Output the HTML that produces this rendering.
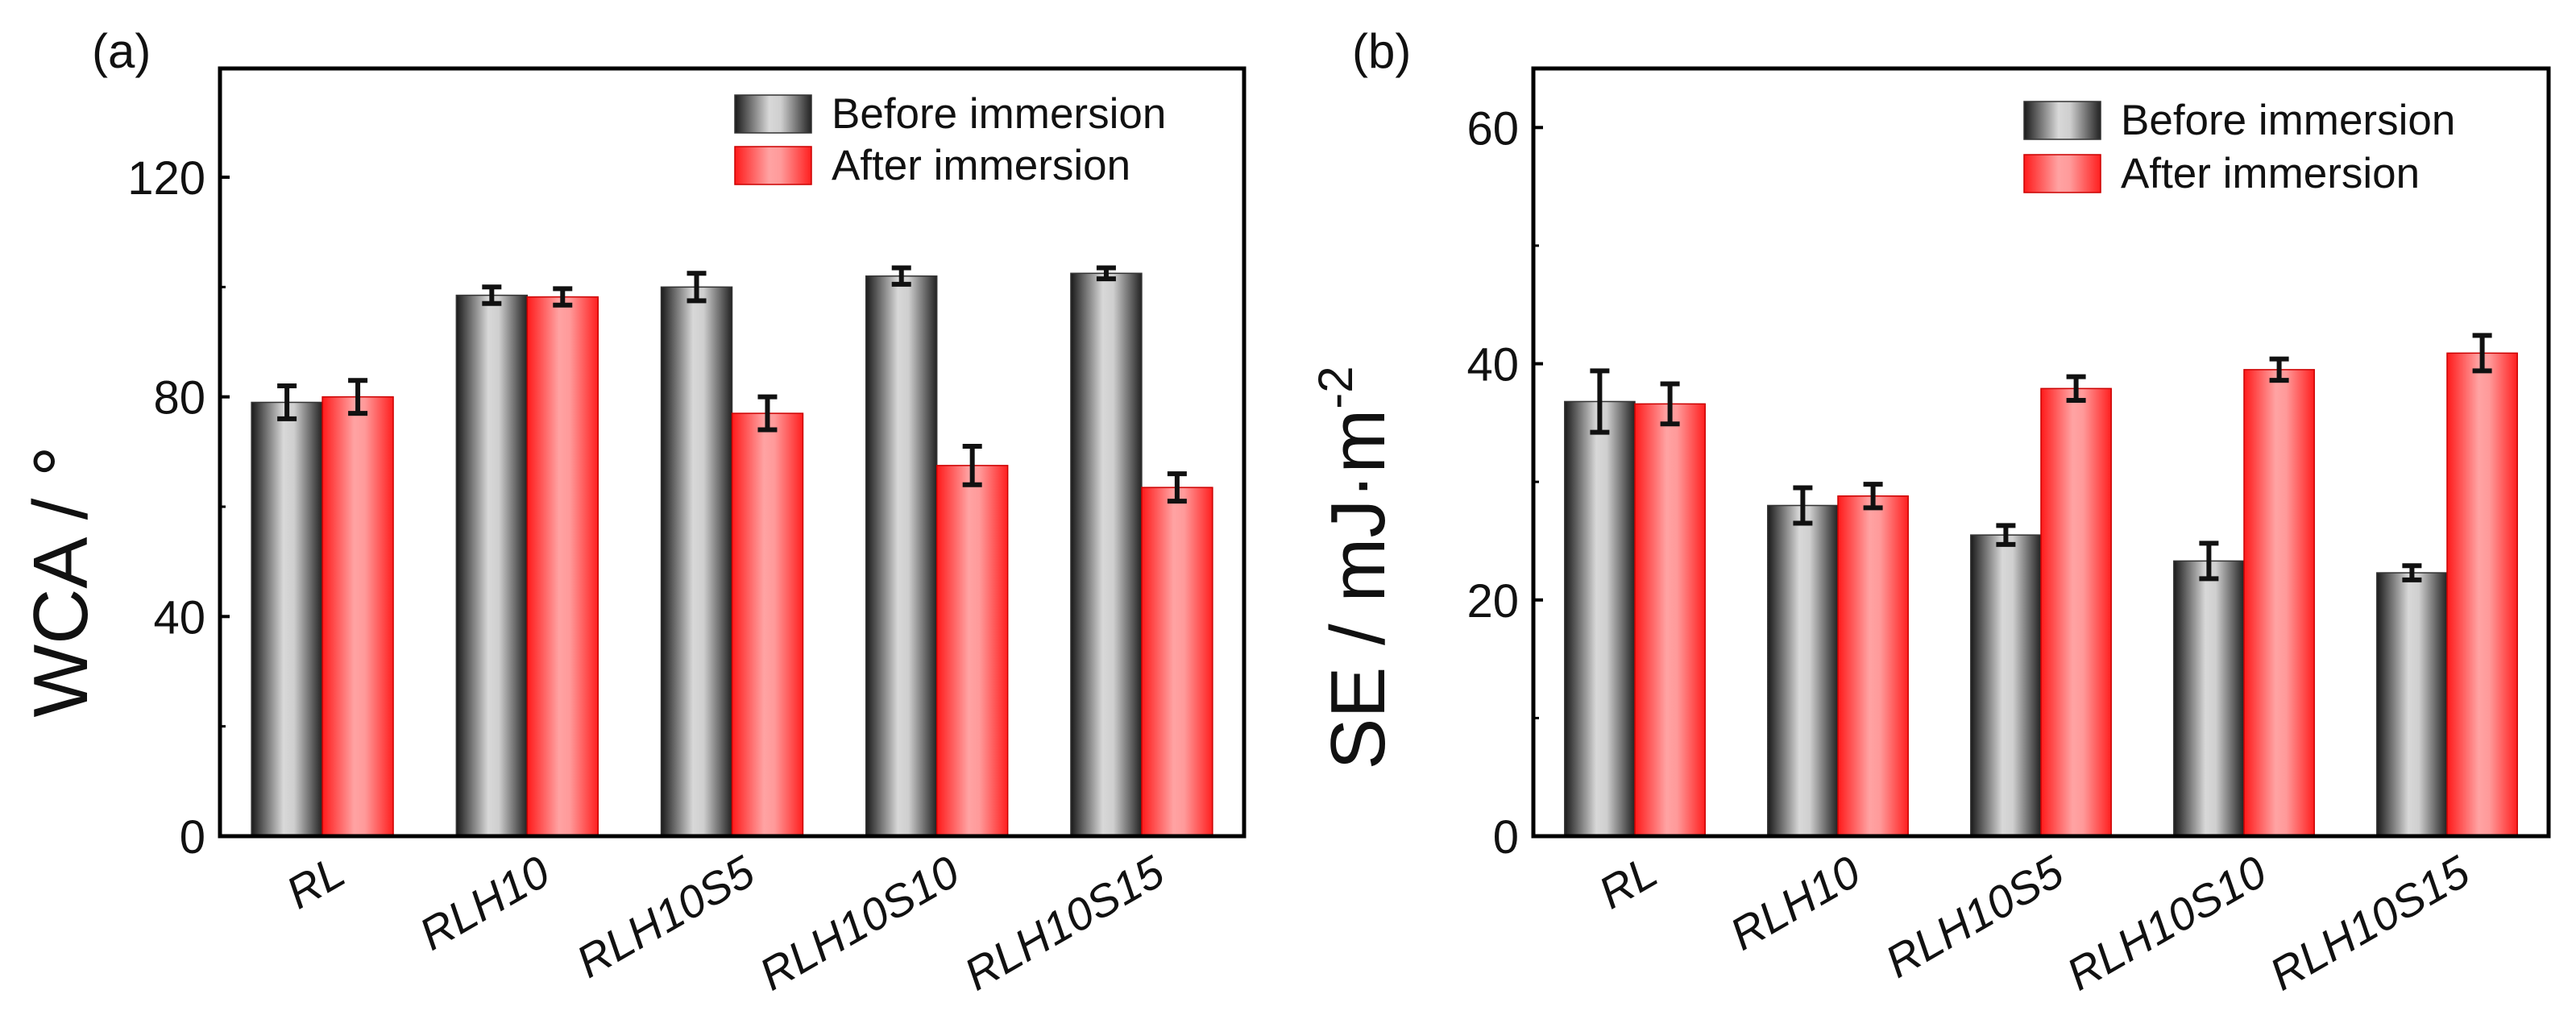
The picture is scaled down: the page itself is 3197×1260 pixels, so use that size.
<!DOCTYPE html>
<html><head><meta charset="utf-8"><style>
html,body{margin:0;padding:0;background:#fff;overflow:hidden;}
svg text{font-family:"Liberation Sans",Arial,sans-serif;fill:#111;}
</style></head><body>
<svg id="fig" width="3197" height="1255" viewBox="0 0 3197 1255" xmlns="http://www.w3.org/2000/svg">
<defs>
<linearGradient id="gGray" x1="0" x2="1" y1="0" y2="0">
<stop offset="0" stop-color="#1a1a1a"/><stop offset="0.45" stop-color="#d8d8d8"/><stop offset="0.6" stop-color="#cfcfcf"/><stop offset="1" stop-color="#222"/>
</linearGradient>
<linearGradient id="gRed" x1="0" x2="1" y1="0" y2="0">
<stop offset="0" stop-color="#ff1a1a"/><stop offset="0.45" stop-color="#ffa3a3"/><stop offset="0.6" stop-color="#ff9a9a"/><stop offset="1" stop-color="#ff1f1f"/>
</linearGradient>
</defs>
<g id="panelA"></g>
<g id="panelB"></g>
</svg>
<script>
const categories = ["RL","RLH10","RLH10S5","RLH10S10","RLH10S15"];
const wcaBefore = [79, 98.5, 100, 102, 102.5];
const wcaBeforeErr = [3, 1.5, 2.5, 1.5, 1];
const wcaAfter = [80, 98.2, 77, 67.5, 63.5];
const wcaAfterErr = [3, 1.5, 3, 3.5, 2.5];
const wcaTicks = [0, 40, 80, 120];
const seBefore = [36.8, 28, 25.5, 23.3, 22.3];
const seBeforeErr = [2.6, 1.5, 0.8, 1.5, 0.6];
const seAfter = [36.6, 28.8, 37.9, 39.5, 40.9];
const seAfterErr = [1.7, 1.0, 1.0, 0.9, 1.5];
const seTicks = [0, 20, 40, 60];

const NS = "http://www.w3.org/2000/svg";
function mk(parent, tag, attrs, text){
  const e = document.createElementNS(NS, tag);
  for (const k in attrs) e.setAttribute(k, attrs[k]);
  if (text !== undefined) e.textContent = text;
  parent.appendChild(e);
  return e;
}

function drawPanel(g, cfg){
  const {x0,x1,y0,y1,ymax,ticks,minor,before,beforeErr,after,afterErr,letter,letterX,titleX,titleY,legX,legY1,legY2,key} = cfg;
  const ys = v => y1 - v/ymax*(y1-y0);
  const step = (x1-x0)/categories.length;
  const xc = i => x0 + (i+0.5)*step;
  const bw = step*0.346;

  const lab = mk(g,'text',{x:letterX,y:84,'font-size':60});
  lab.textContent = letter;
  
  

  const series = [[before,beforeErr,'url(#gGray)','#333','before'],[after,afterErr,'url(#gRed)','#c00','after']];
  series.forEach((s,si)=>{
    s[0].forEach((v,i)=>{
      const bx = xc(i) - bw + si*bw;
      const r = mk(g,'rect',{x:bx,y:ys(v),width:bw,height:y1-ys(v),fill:s[2],stroke:s[3],'stroke-width':1.5});
      
      
      const cx = bx + bw/2, e = s[1][i];
      const eg = mk(g,'g',{stroke:'#111','stroke-width':6});
      
      
      mk(eg,'line',{x1:cx,x2:cx,y1:ys(v+e),y2:ys(v-e)});
      mk(eg,'line',{x1:cx-12,x2:cx+12,y1:ys(v+e),y2:ys(v+e)});
      mk(eg,'line',{x1:cx-12,x2:cx+12,y1:ys(v-e),y2:ys(v-e)});
    });
  });

  ticks.forEach(t=>{
    const tl = mk(g,'line',{x1:x0,x2:x0+12,y1:ys(t),y2:ys(t),stroke:'#000','stroke-width':4});
    
    
    const tx = mk(g,'text',{x:x0-18,y:ys(t)+21,'font-size':58,'text-anchor':'end'}, String(t));
    
    
  });
  minor.forEach(t=>{
    const ml = mk(g,'line',{x1:x0,x2:x0+7,y1:ys(t),y2:ys(t),stroke:'#000','stroke-width':3});
    
    
  });

  categories.forEach((c,i)=>{
    const tx = mk(g,'text',{x:0,y:0,'font-size':56,'font-style':'italic','text-anchor':'end',transform:`translate(${xc(i)+32},${y1+56}) rotate(-30)`}, c);
    
    
  });

  const frame = mk(g,'rect',{x:x0,y:y0,width:x1-x0,height:y1-y0,fill:'none',stroke:'#000','stroke-width':5});
  
  

  const tt = mk(g,'text',{x:0,y:0,'font-size':96,'text-anchor':'middle',transform:`translate(${titleX},${titleY}) rotate(-90)`});
  
  
  if (key==='a'){ tt.textContent = 'WCA / °'; }
  else { tt.textContent = 'SE / mJ·m'; mk(tt,'tspan',{'font-size':60,dy:-40},'-2'); }

  const lg = mk(g,'g',{});
  
  
  [[legY1,'url(#gGray)','#333','Before immersion'],[legY2,'url(#gRed)','#c00','After immersion']].forEach((L,li)=>{
    const sw = mk(lg,'rect',{x:legX,y:L[0],width:95,height:47,fill:L[1],stroke:L[2],'stroke-width':1.5});
    
    
    const lt = mk(lg,'text',{x:legX+120,y:L[0]+41,'font-size':53}, L[3]);
    
    
  });
}

drawPanel(document.getElementById('panelA'),{x0:273,x1:1544,y0:85,y1:1038,ymax:139.8,ticks:wcaTicks,minor:[20,60,100],
  before:wcaBefore,beforeErr:wcaBeforeErr,after:wcaAfter,afterErr:wcaAfterErr,letter:'(a)',letterX:114,titleX:108,titleY:722,legX:912,legY1:118,legY2:182,key:'a'});
drawPanel(document.getElementById('panelB'),{x0:1903,x1:3163,y0:85,y1:1038,ymax:65,ticks:seTicks,minor:[10,30,50],
  before:seBefore,beforeErr:seBeforeErr,after:seAfter,afterErr:seAfterErr,letter:'(b)',letterX:1678,titleX:1718,titleY:705,legX:2512,legY1:126,legY2:192,key:'b'});
</script>
</body></html>
